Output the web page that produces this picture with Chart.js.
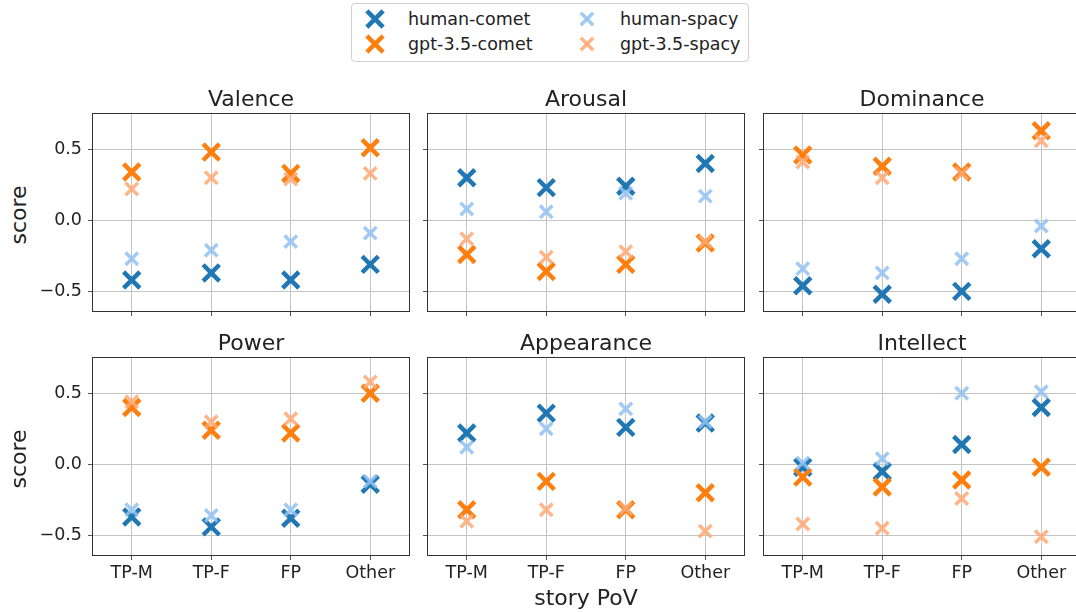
<!DOCTYPE html>
<html>
<head>
<meta charset="utf-8">
<script src="https://cdn.jsdelivr.net/npm/chart.js"></script>
<style>
  body { margin: 0; width: 1076px; height: 612px; overflow: hidden; background: #fff; position: relative;
         font-family: 'DejaVu Sans', sans-serif; color: #222; }
  canvas { position: absolute; }
  .lbl { position: absolute; white-space: nowrap; line-height: 22px; font-size: 22px; }
  .legend { position: absolute; left: 351px; top: 3px; width: 396px; height: 57px;
            border: 1px solid #d0d0d0; border-radius: 4px; }
  .legend .item { position: absolute; font-size: 17.5px; line-height: 20px; }
  .legend svg { position: absolute; }
</style>
</head>
<body>
<div class="legend" id="legend"></div>
<script>
// ---- data ----
const categories = ['TP-M', 'TP-F', 'FP', 'Other'];
const panelTitles = ['Valence', 'Arousal', 'Dominance', 'Power', 'Appearance', 'Intellect'];
const yTicks = [-0.5, 0, 0.5];

// one row per panel, one value per category
const humanComet = [
  [-0.42, -0.37, -0.42, -0.31],
  [0.30, 0.23, 0.24, 0.40],
  [-0.46, -0.52, -0.50, -0.20],
  [-0.37, -0.44, -0.38, -0.14],
  [0.22, 0.36, 0.26, 0.29],
  [-0.02, -0.05, 0.14, 0.40]
];
const gptComet = [
  [0.34, 0.48, 0.33, 0.51],
  [-0.24, -0.36, -0.31, -0.16],
  [0.46, 0.38, 0.34, 0.63],
  [0.40, 0.24, 0.22, 0.50],
  [-0.32, -0.12, -0.32, -0.20],
  [-0.09, -0.16, -0.11, -0.02]
];
const humanSpacy = [
  [-0.27, -0.21, -0.15, -0.09],
  [0.08, 0.06, 0.19, 0.17],
  [-0.34, -0.37, -0.27, -0.04],
  [-0.32, -0.36, -0.32, -0.12],
  [0.12, 0.25, 0.39, 0.30],
  [0.01, 0.04, 0.50, 0.51]
];
const gptSpacy = [
  [0.22, 0.30, 0.29, 0.33],
  [-0.13, -0.26, -0.22, -0.15],
  [0.41, 0.30, 0.33, 0.56],
  [0.44, 0.30, 0.32, 0.58],
  [-0.40, -0.32, -0.31, -0.47],
  [-0.42, -0.45, -0.24, -0.51]
];

// ---- styling ----
const series = [
  { name: 'human-comet',   values: humanComet, color: '#1f77b4', r: 11.5, w: 4.5, order: 4 },
  { name: 'gpt-3.5-comet', values: gptComet,   color: '#ff7f0e', r: 11.5, w: 4.5, order: 3 },
  { name: 'human-spacy',   values: humanSpacy, color: 'rgba(145,194,242,0.85)', r: 8.8, w: 3.5, order: 2 },
  { name: 'gpt-3.5-spacy', values: gptSpacy,   color: 'rgba(255,168,115,0.85)', r: 8.8, w: 3.5, order: 1 }
];

const colLeft = [92, 427, 763];
const rowTop = [113, 357];
const panelW = 318, panelH = 199;
const padL = 60, padR = 10, padT = 22, padB = 40;
const tickFont = { family: 'DejaVu Sans', size: 17.5 };

const framePlugin = {
  id: 'frame',
  afterDatasetsDraw(chart) {
    const a = chart.chartArea, ctx = chart.ctx;
    ctx.save();
    ctx.strokeStyle = '#333';
    ctx.lineWidth = 1;
    ctx.strokeRect(Math.round(a.left) + 0.5, Math.round(a.top) + 0.5,
                   Math.round(a.right - a.left) - 1, Math.round(a.bottom - a.top) - 1);
    ctx.restore();
  }
};

function addLabel(text, x, y, extra) {
  const d = document.createElement('div');
  d.className = 'lbl';
  d.textContent = text;
  d.style.left = x + 'px';
  d.style.top = y + 'px';
  if (extra) Object.assign(d.style, extra);
  document.body.appendChild(d);
  return d;
}

panelTitles.forEach((title, i) => {
  const r = Math.floor(i / 3), c = i % 3;
  const L = colLeft[c], T = rowTop[r];
  const cv = document.createElement('canvas');
  cv.width = panelW + padL + padR;
  cv.height = panelH + padT + padB;
  cv.style.left = (L - padL) + 'px';
  cv.style.top = (T - padT) + 'px';
  document.body.appendChild(cv);

  addLabel(title, L, T - 25, { width: panelW + 'px', textAlign: 'center' });

  new Chart(cv, {
    type: 'scatter',
    data: {
      datasets: series.map(s => ({
        label: s.name,
        data: s.values[i].map((v, k) => ({ x: k, y: v })),
        pointStyle: 'crossRot',
        pointRadius: s.r,
        pointHoverRadius: s.r,
        pointBorderWidth: s.w,
        pointBorderColor: s.color,
        pointBackgroundColor: s.color,
        order: s.order,
        clip: false
      }))
    },
    options: {
      responsive: false,
      animation: false,
      events: [],
      layout: { autoPadding: false, padding: { top: padT, right: padR, left: 0, bottom: 0 } },
      plugins: { legend: { display: false }, tooltip: { enabled: false } },
      scales: {
        x: {
          type: 'linear', min: -0.5, max: 3.5,
          afterBuildTicks: s => { s.ticks = categories.map((_, k) => ({ value: k })); },
          afterFit: s => { s.height = padB; s.paddingLeft = 0; s.paddingRight = 0; },
          ticks: { display: r === 1, font: tickFont, color: '#222', padding: 3,
                   callback: v => categories[v], maxRotation: 0 },
          grid: { color: '#c4c4c4', lineWidth: 1, tickColor: '#555', tickLength: 4 },
          border: { display: false }
        },
        y: {
          min: -0.645, max: 0.755,
          afterBuildTicks: s => { s.ticks = yTicks.map(v => ({ value: v })); },
          afterFit: s => { s.width = padL; s.paddingTop = 0; s.paddingBottom = 0; },
          ticks: { display: c === 0, font: tickFont, color: '#222', padding: 6,
                   callback: v => v.toFixed(1).replace('-', '\u2212') },
          grid: { color: '#c4c4c4', lineWidth: 1, tickColor: '#555', tickLength: 4 },
          border: { display: false }
        }
      }
    },
    plugins: [framePlugin]
  });
});

// axis labels
rowTop.forEach(T => {
  addLabel('score', 19 - 50, T + panelH / 2 + 2 - 11,
           { width: '100px', textAlign: 'center', transform: 'rotate(-90deg)' });
});
addLabel('story PoV', colLeft[1], 587, { width: panelW + 'px', textAlign: 'center' });

// legend
const legend = document.getElementById('legend');
const legendPos = [[23, 5], [23, 30], [235, 5], [235, 30]];
series.forEach((s, k) => {
  const [x, y] = legendPos[k];
  const half = s.r * 0.7071;
  const svg = document.createElementNS('http://www.w3.org/2000/svg', 'svg');
  svg.setAttribute('width', 26); svg.setAttribute('height', 26);
  svg.style.left = (x - 13) + 'px'; svg.style.top = (y + 10 - 13) + 'px';
  svg.innerHTML =
    `<line x1="${13 - half}" y1="${13 - half}" x2="${13 + half}" y2="${13 + half}" stroke="${s.color}" stroke-width="${s.w}"/>` +
    `<line x1="${13 - half}" y1="${13 + half}" x2="${13 + half}" y2="${13 - half}" stroke="${s.color}" stroke-width="${s.w}"/>`;
  legend.appendChild(svg);
  const it = document.createElement('div');
  it.className = 'item';
  it.textContent = s.name;
  it.style.left = (x + 33) + 'px';
  it.style.top = y + 'px';
  legend.appendChild(it);
});
</script>
</body>
</html>
